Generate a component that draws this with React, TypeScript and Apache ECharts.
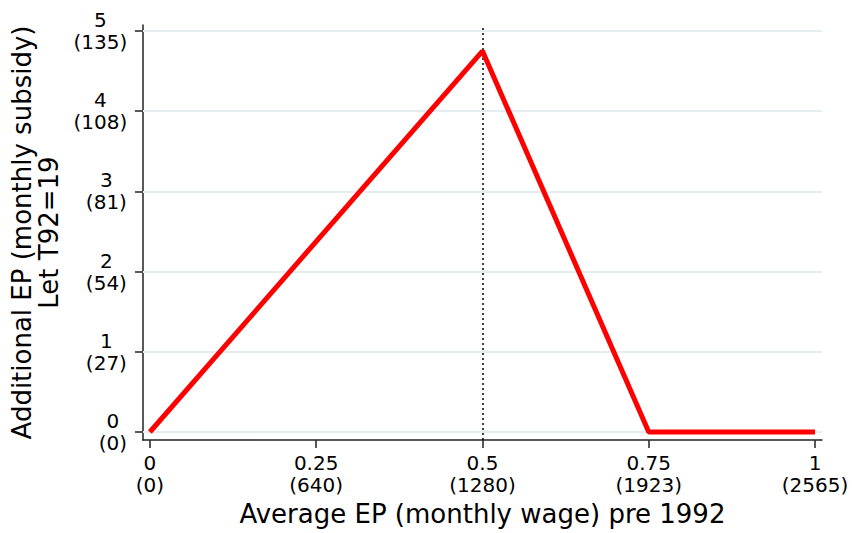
import React, { useEffect, useRef } from "react";
import * as echarts from "echarts";

const xPoints = [0, 0.5, 0.75, 1];
const yPoints = [0, 4.75, 0, 0];
const xTicks = [0, 0.25, 0.5, 0.75, 1];
const xTickSub = ["0", "640", "1280", "1923", "2565"];
const yTicks = [0, 1, 2, 3, 4, 5];
const yTickSub = ["0", "27", "54", "81", "108", "135"];
const refLineX = 0.5;
const xTitle = "Average EP (monthly wage) pre 1992";
const yTitle = "Additional EP (monthly subsidy)\nLet T92=19";

const FONT = "DejaVu Sans";

function measure(text: string, size: number) {
  const c = document.createElement("canvas").getContext("2d");
  if (!c) return text.length * size * 0.6;
  c.font = `${size}px '${FONT}'`;
  return c.measureText(text).width;
}

export default function App() {
  const ref = useRef<HTMLDivElement>(null);
  useEffect(() => {
    if (!ref.current) return;
    const chart = echarts.init(ref.current, null, { renderer: "svg" });
    const rich: Record<string, any> = {};
    yTicks.forEach((v, i) => {
      const w = Math.ceil(
        Math.max(measure(String(v), 20), measure(`(${yTickSub[i]})`, 20))
      ) + 1;
      rich["y" + i] = {
        width: w,
        align: "center",
        fontSize: 20,
        lineHeight: 22,
        fontFamily: FONT,
        color: "#000",
      };
    });
    const data = xPoints.map((x, i) => [x, yPoints[i]]);
    chart.setOption({
      animation: false,
      backgroundColor: "#fff",
      grid: { left: 140, right: 30, top: 25, bottom: 93, containLabel: false },
      xAxis: {
        type: "value",
        min: -7 / 668,
        max: 1 + 7 / 668,
        name: xTitle,
        nameLocation: "middle",
        nameGap: 57,
        nameTextStyle: { fontSize: 26, fontFamily: FONT, color: "#000" },
        axisLine: { show: true, onZero: false, lineStyle: { color: "#222", width: 1.5 } },
        axisTick: {
          show: true,
          customValues: xTicks,
          length: 8,
          lineStyle: { color: "#222", width: 1.5 },
        },
        axisLabel: {
          customValues: xTicks,
          margin: 12,
          fontSize: 20,
          lineHeight: 22,
          fontFamily: FONT,
          color: "#000",
          align: "center",
          formatter: (v: number) => {
            const i = xTicks.indexOf(v);
            return `${v}\n(${i >= 0 ? xTickSub[i] : ""})`;
          },
        },
        splitLine: { show: false },
      },
      yAxis: {
        type: "value",
        min: -8 / 80.2,
        max: 5 + 6 / 80.2,
        name: yTitle,
        nameLocation: "middle",
        nameRotate: 90,
        nameGap: 68,
        nameTextStyle: {
          fontSize: 26,
          lineHeight: 27,
          fontFamily: FONT,
          color: "#000",
          align: "center",
        },
        axisLine: { show: true, onZero: false, lineStyle: { color: "#222", width: 1.5 } },
        axisTick: {
          show: true,
          customValues: yTicks,
          length: 8,
          lineStyle: { color: "#222", width: 1.5 },
        },
        axisLabel: {
          customValues: yTicks,
          margin: 15,
          formatter: (v: number) => {
            const i = yTicks.indexOf(v);
            return `{y${i}|${v}}\n{y${i}|(${yTickSub[i]})}`;
          },
          rich,
        },
        splitLine: { show: false },
      },
      series: [
        {
          type: "line",
          data: [],
          z: 1,
          silent: true,
          markLine: {
            silent: true,
            z: 1,
            symbol: "none",
            label: { show: false },
            lineStyle: { color: "#e6edf0", width: 2, type: "solid" },
            data: yTicks.map((v) => ({ yAxis: v })),
          },
        },
        {
          type: "line",
          data: [],
          z: 2,
          silent: true,
          markLine: {
            silent: true,
            z: 2,
            symbol: "none",
            label: { show: false },
            lineStyle: { color: "#000", width: 1.5, type: [2, 3] },
            data: [{ xAxis: refLineX }],
          },
        },
        {
          type: "line",
          data,
          z: 3,
          symbol: "none",
          lineStyle: { color: "#ff0000", width: 5 },
          silent: true,
        },
      ],
    });
    return () => chart.dispose();
  }, []);
  return <div ref={ref} style={{ width: 852, height: 533, position: "absolute", left: 0, top: 0 }} />;
}
